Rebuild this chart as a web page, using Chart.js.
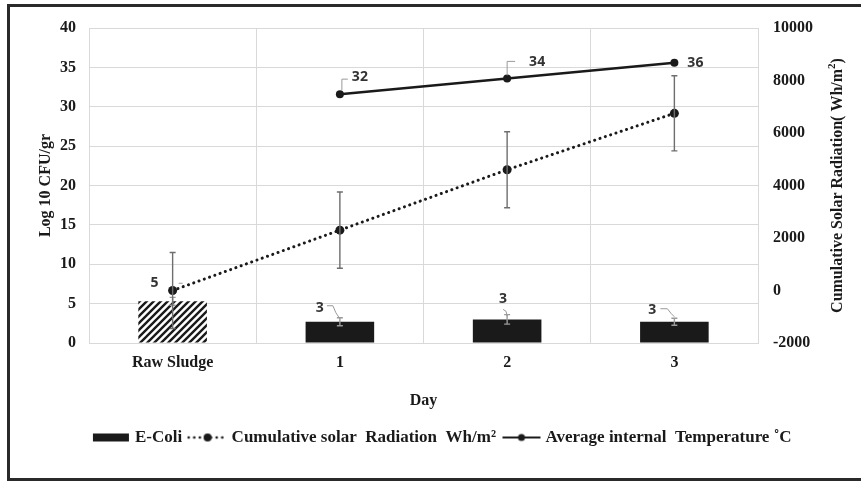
<!DOCTYPE html>
<html>
<head>
<meta charset="utf-8">
<script src="https://cdn.jsdelivr.net/npm/chart.js@4.4.1/dist/chart.umd.min.js"></script>
<style>
  html, body { margin: 0; padding: 0; background: #fff; }
  #wrap { width: 861px; height: 483px; }
</style>
</head>
<body>
<div id="wrap"><canvas id="chart" width="861" height="483"></canvas></div>
<script>
// Data
const days = ['Raw Sludge', '1', '2', '3'];
const eColi = [5.3, 2.7, 3.0, 2.7];
const eColiErr = [0.5, 0.5, 0.6, 0.45];
const radiation = [0, 2300, 4600, 6750];
const radiationErr = [1450, 1450, 1450, 1430];
const temperature = [null, 31.6, 33.6, 35.6];

const serif = '"Liberation Serif", "Times New Roman", serif';
const sans = '"Open Sans", "Liberation Sans", sans-serif';

// diagonal hatch for the raw sludge bar
function hatch() {
  const s = 7;
  const c = document.createElement('canvas');
  c.width = s; c.height = s;
  const g = c.getContext('2d');
  g.fillStyle = '#fff';
  g.fillRect(0, 0, s, s);
  g.strokeStyle = '#1a1a1a';
  g.lineWidth = 2.4;
  g.beginPath();
  g.moveTo(0, s); g.lineTo(s, 0);
  g.moveTo(-1, 1); g.lineTo(1, -1);
  g.moveTo(s - 1, s + 1); g.lineTo(s + 1, s - 1);
  g.stroke();
  return g.createPattern(c, 'repeat');
}
const ctx = document.getElementById('chart').getContext('2d');
const hatchPattern = hatch();

// small legend icons
function icon(kind) {
  const c = document.createElement('canvas');
  c.width = 42; c.height = 10;
  const g = c.getContext('2d');
  g.fillStyle = '#1a1a1a';
  g.strokeStyle = '#1a1a1a';
  if (kind === 'bar') {
    g.fillRect(3, 1, 36, 8);
  } else if (kind === 'dot') {
    g.lineWidth = 2.6;
    g.lineCap = 'round';
    g.setLineDash([0.1, 5.5]);
    g.beginPath(); g.moveTo(2, 5); g.lineTo(41, 5); g.stroke();
    g.setLineDash([]);
    g.beginPath(); g.arc(21, 5, 4, 0, Math.PI * 2); g.fill();
  } else {
    g.lineWidth = 2;
    g.beginPath(); g.moveTo(2, 5); g.lineTo(40, 5); g.stroke();
    g.beginPath(); g.arc(21, 5, 3.5, 0, Math.PI * 2); g.fill();
  }
  return c;
}
const icons = [icon('bar'), icon('dot'), icon('line')];

// frame around the whole figure
const framePlugin = {
  id: 'frame',
  beforeDraw(chart) {
    const g = chart.ctx;
    g.save();
    g.fillStyle = '#fff';
    g.fillRect(0, 0, chart.width, chart.height);
    g.fillStyle = '#2a2a2a';
    g.fillRect(7, 4, chart.width - 7, 3);
    g.fillRect(7, 4, 3, 477);
    g.fillRect(7, 478, chart.width - 7, 3);
    g.restore();
  }
};

// error bars, value labels with leader lines, right axis title
const extrasPlugin = {
  id: 'extras',
  afterDatasetsDraw(chart) {
    const g = chart.ctx;
    const y = chart.scales.y, y1 = chart.scales.y1;
    const barMeta = chart.getDatasetMeta(0);
    const radMeta = chart.getDatasetMeta(1);
    const tempMeta = chart.getDatasetMeta(2);
    g.save();

    function errBar(x, top, bottom, color) {
      g.strokeStyle = color;
      g.lineWidth = 1.4;
      g.beginPath();
      g.moveTo(x, top); g.lineTo(x, bottom);
      g.moveTo(x - 3, top); g.lineTo(x + 3, top);
      g.moveTo(x - 3, bottom); g.lineTo(x + 3, bottom);
      g.stroke();
    }
    eColi.forEach((v, i) => {
      const x = barMeta.data[i].x;
      errBar(x, y.getPixelForValue(v + eColiErr[i]), y.getPixelForValue(v - eColiErr[i]), '#9a9a9a');
    });
    radiation.forEach((v, i) => {
      const x = radMeta.data[i].x;
      errBar(x, y1.getPixelForValue(v + radiationErr[i]), y1.getPixelForValue(v - radiationErr[i]), '#6e6e6e');
    });

    // value labels
    g.font = 'bold 14px ' + sans;
    g.fillStyle = '#333';
    g.textAlign = 'center';
    g.textBaseline = 'middle';
    function leader(pts) {
      g.strokeStyle = '#9a9a9a';
      g.lineWidth = 1;
      g.beginPath();
      pts.forEach((p, k) => k ? g.lineTo(p[0], p[1]) : g.moveTo(p[0], p[1]));
      g.stroke();
    }
    const barOffsets = [
      { dx: -18, dy: -18, line: [[6, -18], [10, -18]] },
      { dx: -20, dy: -14, line: [[-13, -16], [-7, -16], [-4, -9], [0, -3]] },
      { dx: -4, dy: -20, line: [[-4, -10], [-1, -8], [0, -3]] },
      { dx: -22, dy: -12, line: [[-14, -13], [-7, -13], [-3, -8], [0, -5]] }
    ];
    eColi.forEach((v, i) => {
      const el = barMeta.data[i];
      const o = barOffsets[i];
      leader(o.line.map(p => [el.x + p[0], el.y + p[1]]));
      g.fillText(String(Math.round(v)), el.x + o.dx, el.y + o.dy);
    });
    const tempOffsets = [
      null,
      { dx: 20, dy: -17, line: [[2, -4], [2, -15], [8, -15]] },
      { dx: 30, dy: -16, line: [[0, -3], [0, -17], [8, -17]] },
      { dx: 21, dy: 0, line: null }
    ];
    temperature.forEach((v, i) => {
      if (v === null) return;
      const el = tempMeta.data[i];
      const o = tempOffsets[i];
      if (o.line) leader(o.line.map(p => [el.x + p[0], el.y + p[1]]));
      g.fillText(String(Math.round(v)), el.x + o.dx, el.y + o.dy);
    });

    // right axis title, reading bottom to top, with superscript
    const cx = 838, cy = (chart.chartArea.top + chart.chartArea.bottom) / 2;
    const main = 'Cumulative Solar Radiation( Wh/m';
    g.translate(cx, cy);
    g.rotate(-Math.PI / 2);
    g.fillStyle = '#1a1a1a';
    g.textAlign = 'left';
    g.font = 'bold 16px ' + serif;
    const w1 = g.measureText(main).width;
    const wClose = g.measureText(')').width;
    g.font = 'bold 11px ' + serif;
    const wSup = g.measureText('2').width;
    let x0 = -(w1 + wSup + wClose) / 2;
    g.font = 'bold 16px ' + serif;
    g.fillText(main, x0, 0);
    g.font = 'bold 11px ' + serif;
    g.fillText('2', x0 + w1, -6);
    g.font = 'bold 16px ' + serif;
    g.fillText(')', x0 + w1 + wSup, 0);
    g.restore();
  }
};

new Chart(ctx, {
  type: 'bar',
  data: {
    labels: days,
    datasets: [
      {
        type: 'bar',
        label: 'E-Coli',
        data: eColi,
        backgroundColor: [hatchPattern, '#1a1a1a', '#1a1a1a', '#1a1a1a'],
        borderWidth: 0,
        barPercentage: 0.41,
        categoryPercentage: 1,
        yAxisID: 'y',
        order: 2
      },
      {
        type: 'line',
        label: 'Cumulative solar  Radiation  Wh/m²',
        data: radiation,
        borderColor: '#1a1a1a',
        backgroundColor: '#1a1a1a',
        borderWidth: 3,
        borderDash: [0.1, 5.5],
        borderCapStyle: 'round',
        pointRadius: 4.5,
        pointBorderWidth: 0,
        yAxisID: 'y1',
        order: 1
      },
      {
        type: 'line',
        label: 'Average internal  Temperature ˚C',
        data: temperature,
        borderColor: '#1a1a1a',
        backgroundColor: '#1a1a1a',
        borderWidth: 2.5,
        pointRadius: 4,
        pointBorderWidth: 0,
        yAxisID: 'y',
        order: 0
      }
    ]
  },
  options: {
    responsive: false,
    animation: false,
    layout: { padding: { left: 26, right: 0, top: 28, bottom: 27 } },
    plugins: {
      tooltip: { enabled: false },
      legend: {
        position: 'bottom',
        labels: {
          usePointStyle: true,
          pointStyleWidth: 31,
          padding: 10,
          color: '#1a1a1a',
          font: { family: serif, size: 17, weight: 'bold' },
          sort: (a, b) => a.datasetIndex - b.datasetIndex,
          generateLabels(chart) {
            const items = Chart.defaults.plugins.legend.labels.generateLabels(chart);
            items.forEach(it => { it.pointStyle = icons[it.datasetIndex]; });
            return items;
          }
        }
      }
    },
    scales: {
      x: {
        grid: { color: '#d9d9d9', drawTicks: false, offset: true },
        border: { color: '#d9d9d9' },
        ticks: { color: '#1a1a1a', padding: 10, font: { family: serif, size: 16, weight: 'bold' } },
        title: { display: true, text: 'Day', color: '#1a1a1a', padding: { top: 0, bottom: 9 }, font: { family: serif, size: 16, weight: 'bold' } },
        afterFit(s) { s.height = 76; }
      },
      y: {
        position: 'left',
        min: 0, max: 40,
        ticks: { stepSize: 5, color: '#1a1a1a', padding: 13, font: { family: serif, size: 16, weight: 'bold' } },
        grid: { color: '#d9d9d9', drawTicks: false },
        border: { color: '#d9d9d9' },
        title: { display: true, text: 'Log 10 CFU/gr', color: '#1a1a1a', padding: { top: 10, bottom: 0 }, font: { family: serif, size: 16, weight: 'bold' } },
        afterFit(s) { s.width = 63; }
      },
      y1: {
        position: 'right',
        min: -2000, max: 10000,
        ticks: { stepSize: 2000, color: '#1a1a1a', padding: 15, callback: v => String(v), font: { family: serif, size: 16, weight: 'bold' } },
        grid: { display: false, drawTicks: false },
        border: { color: '#d9d9d9' },
        afterFit(s) { s.width = 103; }
      }
    }
  },
  plugins: [framePlugin, extrasPlugin]
});
</script>
</body>
</html>
